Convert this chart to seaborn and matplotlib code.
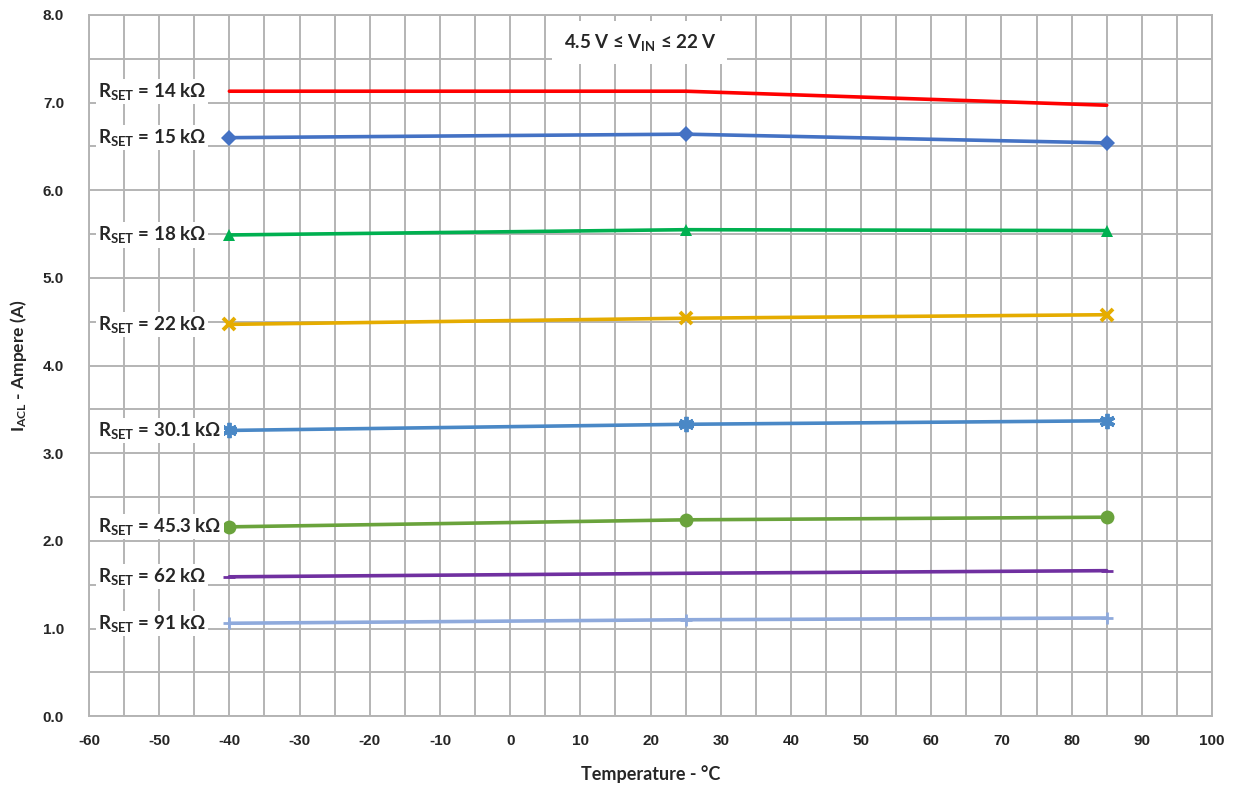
import matplotlib.pyplot as plt
import pandas as pd
import seaborn as sns
from matplotlib.ticker import MultipleLocator

# Temperature points (deg C)
temps = [-40, 25, 85]

# series names and measured current limit (A)
rset_labels = ["14", "15", "18", "22", "30.1", "45.3", "62", "91"]
i_14k = [7.13, 7.13, 6.97]
i_15k = [6.60, 6.64, 6.54]
i_18k = [5.49, 5.55, 5.54]
i_22k = [4.47, 4.54, 4.58]
i_30k1 = [3.26, 3.33, 3.37]
i_45k3 = [2.16, 2.24, 2.27]
i_62k = [1.59, 1.63, 1.66]
i_91k = [1.06, 1.10, 1.12]

x_ticks = list(range(-60, 101, 10))
y_ticks = [0.0, 1.0, 2.0, 3.0, 4.0, 5.0, 6.0, 7.0, 8.0]

series = [i_14k, i_15k, i_18k, i_22k, i_30k1, i_45k3, i_62k, i_91k]
colors = ["#FF0000", "#4472C4", "#00B050", "#E5AC00", "#4A88C6", "#6AA33C", "#7030A0", "#8FAADC"]
markers = [None, "D", "^", "x", (6, 2, 0), "o", "_", "+"]
msizes = [0, 8, 9, 9, 11, 10, 8, 9]

sns.set_style("white")
plt.rcParams["mathtext.default"] = "regular"
label_font = ["Lato", "DejaVu Sans"]
tick_font = ["Liberation Sans", "DejaVu Sans"]

rows = []
for name, vals in zip(rset_labels, series):
    for t, v in zip(temps, vals):
        rows.append({"rset": name, "temp": t, "current": v})
df = pd.DataFrame(rows)

fig = plt.figure(figsize=(12.38, 7.87), dpi=100)
ax = fig.add_axes([0.0719, 0.090, 0.9071, 0.891])

grid_color = "#B4B4B4"
ax.xaxis.set_major_locator(MultipleLocator(10))
ax.xaxis.set_minor_locator(MultipleLocator(5))
ax.yaxis.set_major_locator(MultipleLocator(1.0))
ax.yaxis.set_minor_locator(MultipleLocator(0.5))
ax.grid(True, which="both", color=grid_color, linewidth=1.4)
ax.set_axisbelow(True)

for name, color, mk, ms in zip(rset_labels, colors, markers, msizes):
    sub = df[df["rset"] == name]
    if mk in ("x", (6, 2, 0)):
        mew = 2.8
    elif mk in ("+", "_"):
        mew = 2.0
    else:
        mew = 0
    sns.lineplot(
        data=sub,
        x="temp",
        y="current",
        color=color,
        marker=mk,
        markersize=ms,
        markeredgecolor=color,
        markerfacecolor=color,
        markeredgewidth=mew,
        linewidth=2.6,
        ax=ax,
        legend=False,
    )
    ax.text(
        -58.7,
        sub["current"].iloc[0],
        r"R$_{SET}$ = " + name + " k\u03a9",
        ha="left",
        va="center",
        fontsize=13.5,
        fontweight="bold",
        family=label_font,
        bbox=dict(facecolor="white", edgecolor="none", pad=1.5),
        zorder=5,
    )

ax.text(
    18.5,
    7.69,
    "4.5 V \u2264 V$_{IN}$ \u2264 22 V",
    ha="center",
    va="center",
    fontsize=13.5,
    fontweight="bold",
    family=label_font,
    bbox=dict(facecolor="white", edgecolor="none", pad=8),
    zorder=5,
)

ax.set_xlim(-60, 100)
ax.set_ylim(0, 8)
ax.set_xticks(x_ticks)
ax.set_yticks(y_ticks)
ax.set_xticklabels([str(t) for t in x_ticks], fontsize=11, fontweight="bold", family=tick_font)
ax.set_yticklabels([f"{v:.1f}" for v in y_ticks], fontsize=11, fontweight="bold", family=tick_font)
ax.tick_params(axis="both", which="both", length=0)
ax.tick_params(axis="x", pad=13)
ax.tick_params(axis="y", pad=18)

ax.set_xlabel("Temperature - \u00b0C", fontsize=13, fontweight="bold", family=label_font, labelpad=12)
ax.set_ylabel(r"I$_{ACL}$ - Ampere (A)", fontsize=12.5, fontweight="bold", family=label_font, labelpad=10)

for side in ["left", "right", "top", "bottom"]:
    ax.spines[side].set_color(grid_color)
    ax.spines[side].set_linewidth(1.4)

fig.savefig("out.png", dpi=100)
plt.close(fig)
